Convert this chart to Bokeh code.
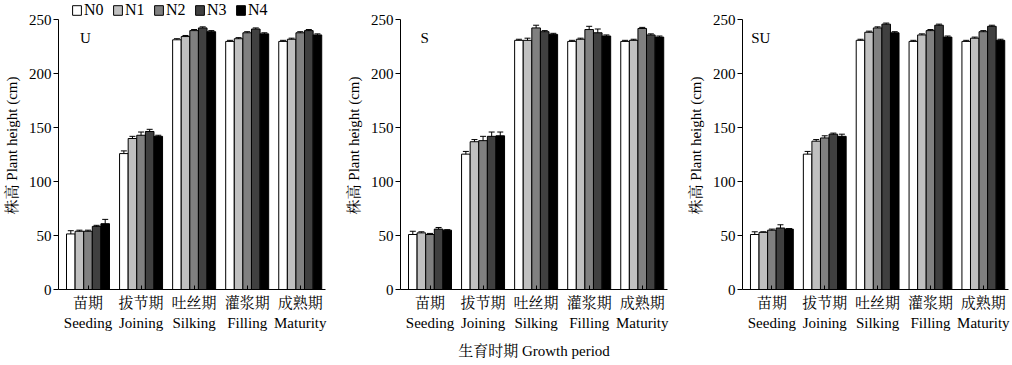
import numpy as np
from bokeh.plotting import figure
from bokeh.models import (Range1d, FixedTicker, ColumnDataSource, Whisker, TeeHead,
                          Legend, LegendItem, Label)
from bokeh.layouts import row
from bokeh.embed import file_html
from bokeh.resources import INLINE

# ---------------- data ----------------
periods_cn = ["苗期", "拔节期", "吐丝期", "灌浆期", "成熟期"]
periods_en = ["Seeding", "Joining", "Silking", "Filling", "Maturity"]
treatments = ["N0", "N1", "N2", "N3", "N4"]
panel_names = ["U", "S", "SU"]

# rows: N0..N4, columns: periods
U_height = [
    [51.5, 126.0, 231.5, 230.0, 230.0],
    [54.0, 140.0, 234.5, 232.5, 232.0],
    [54.0, 143.0, 240.0, 238.0, 238.0],
    [58.5, 146.5, 242.5, 241.5, 240.0],
    [61.0, 142.0, 239.0, 237.0, 236.0],
]
U_err = [
    [3.0, 2.5, 1.0, 1.0, 1.0],
    [1.0, 2.0, 1.0, 1.0, 1.0],
    [1.0, 3.0, 1.0, 1.0, 1.0],
    [1.0, 2.0, 1.0, 1.0, 1.0],
    [4.0, 1.0, 1.0, 1.0, 1.0],
]
S_height = [
    [51.0, 125.5, 231.0, 230.0, 230.0],
    [52.5, 137.0, 231.0, 232.0, 231.0],
    [51.0, 138.0, 242.5, 241.0, 242.0],
    [56.0, 142.0, 239.0, 238.0, 236.0],
    [55.0, 142.5, 236.5, 235.0, 234.0],
]
S_err = [
    [3.0, 2.5, 1.0, 1.0, 1.0],
    [1.0, 2.0, 2.0, 1.0, 1.0],
    [1.0, 4.0, 2.5, 3.0, 1.0],
    [1.5, 4.0, 1.0, 3.5, 1.0],
    [0.5, 3.5, 1.0, 1.0, 1.0],
]
SU_height = [
    [51.0, 125.5, 231.0, 230.0, 230.0],
    [53.0, 137.5, 238.5, 236.0, 233.0],
    [55.0, 140.5, 242.5, 240.0, 239.0],
    [57.0, 144.0, 246.0, 245.0, 244.0],
    [56.0, 142.0, 238.0, 234.0, 231.0],
]
SU_err = [
    [2.5, 2.5, 1.0, 1.0, 1.0],
    [0.5, 1.5, 1.0, 1.0, 1.0],
    [1.0, 2.0, 1.0, 1.0, 1.0],
    [3.0, 1.0, 1.0, 1.0, 1.0],
    [0.5, 2.0, 1.0, 1.0, 1.0],
]
y_ticks = [0, 50, 100, 150, 200, 250]

# ---------------- style ----------------
colors = ["#ffffff", "#c0c0c0", "#808080", "#404040", "#000000"]
FONT = "'Liberation Serif', 'Times New Roman', 'Noto Serif CJK SC', 'Noto Sans CJK SC', serif"
FS = "15px"
bar_w = 0.162
offsets = [(-2 + j) * bar_w for j in range(5)]

heights = [U_height, S_height, SU_height]
errs = [U_err, S_err, SU_err]
widths = [342, 342, 328]
right_borders = [17, 17, 4]
label_x = [-0.15, -0.18, -0.39]


def make_panel(k):
    p = figure(width=widths[k], height=365, output_backend="svg", toolbar_location=None,
               x_range=Range1d(-0.556, 4.476), y_range=Range1d(0, 267),
               min_border_left=55, min_border_right=right_borders[k],
               min_border_top=1, min_border_bottom=76)
    p.outline_line_color = None
    p.xgrid.visible = False
    p.ygrid.visible = False
    p.background_fill_color = "white"

    xs = np.arange(len(periods_cn))
    renderers = []
    for j, tname in enumerate(treatments):
        top = np.array(heights[k][j], dtype=float)
        er = np.array(errs[k][j], dtype=float)
        src = ColumnDataSource(dict(x=xs + offsets[j], top=top, up=top + er, lo=top - er))
        r = p.vbar(x="x", top="top", bottom=0, width=bar_w, source=src,
                   fill_color=colors[j], line_color="black", line_width=1)
        renderers.append(r)
        w = Whisker(base="x", upper="up", lower="lo", source=src, dimension="height",
                    line_color="black", line_width=1,
                    upper_head=TeeHead(size=6, line_color="black", line_width=1),
                    lower_head=TeeHead(size=6, line_color="black", line_width=1))
        p.add_layout(w)

    # axes
    p.xaxis.ticker = FixedTicker(ticks=list(range(len(periods_cn))))
    p.xaxis.major_label_overrides = {i: f"{c}\n{e}" for i, (c, e) in enumerate(zip(periods_cn, periods_en))}
    p.yaxis.ticker = FixedTicker(ticks=y_ticks)
    p.yaxis.bounds = (0, 250)
    for ax in (p.xaxis, p.yaxis):
        ax.axis_line_color = "black"
        ax.axis_line_width = 1
        ax.major_tick_line_color = "black"
        ax.minor_tick_line_color = None
        ax.major_label_text_color = "black"
        ax.major_label_text_font = FONT
        ax.major_label_text_font_size = FS
        ax.axis_label_text_font = FONT
        ax.axis_label_text_font_size = FS
        ax.axis_label_text_font_style = "normal"
        ax.axis_label_text_color = "black"
    p.xaxis.major_tick_in = 4
    p.xaxis.major_tick_out = 0
    p.xaxis.major_label_standoff = 5
    p.xaxis.major_label_text_line_height = 1.3
    p.yaxis.major_tick_in = 0
    p.yaxis.major_tick_out = 5
    p.yaxis.major_label_standoff = 2
    p.yaxis.axis_label = "株高 Plant height (cm)"
    p.yaxis.axis_label_standoff = 6
    if k == 1:
        p.xaxis.axis_label = "生育时期 Growth period"
        p.xaxis.axis_label_standoff = 9

    p.add_layout(Label(x=label_x[k], y=233.5, text=panel_names[k], text_font=FONT,
                       text_font_size=FS, text_baseline="middle", text_color="black"))

    if k == 0:
        items = [LegendItem(label=t, renderers=[renderers[j]]) for j, t in enumerate(treatments)]
        leg = Legend(items=items, orientation="horizontal", location=(13, 270),
                     background_fill_alpha=0, border_line_alpha=0,
                     glyph_width=11, glyph_height=12, label_height=14,
                     label_standoff=2, spacing=8, padding=0, margin=0,
                     label_text_font="Liberation Serif", label_text_font_size="16px",
                     label_text_color="black")
        p.add_layout(leg)
    return p


panels = [make_panel(k) for k in range(3)]
layout = row(*panels, spacing=0)
open("out.html", "w").write(file_html(layout, INLINE))
